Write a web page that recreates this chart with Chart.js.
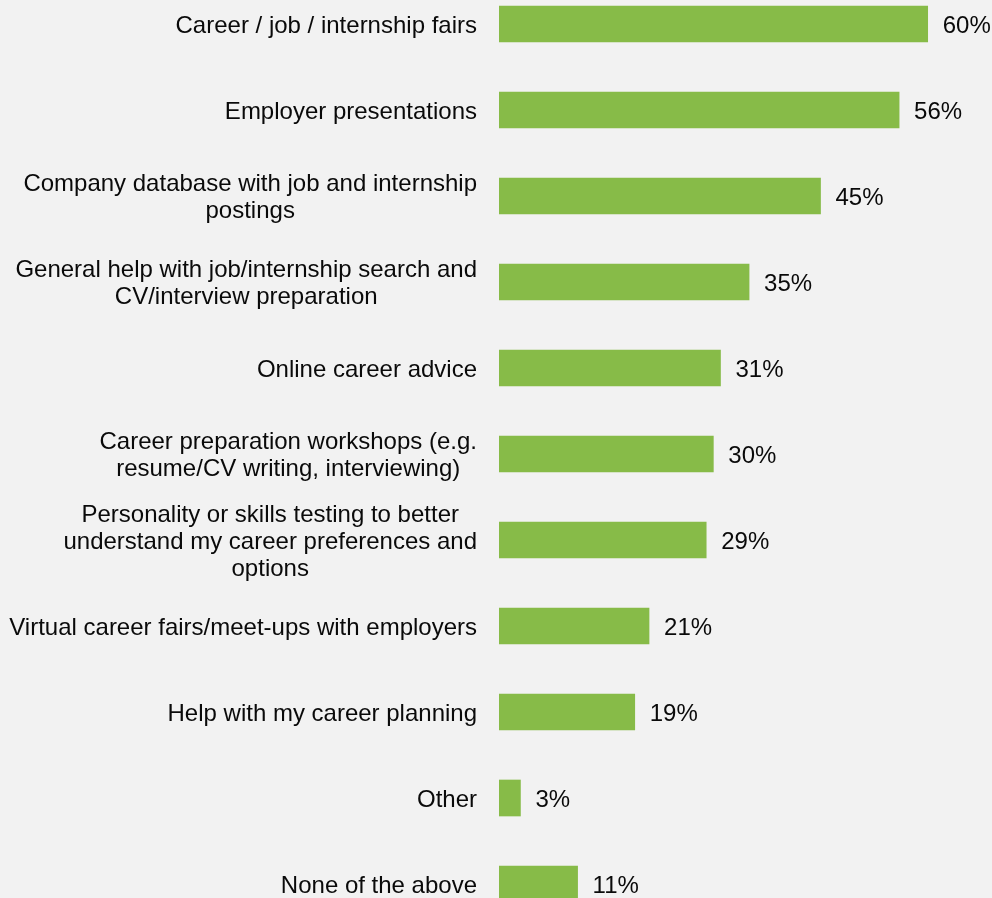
<!DOCTYPE html>
<html>
<head>
<meta charset="utf-8">
<script src="https://cdn.jsdelivr.net/npm/chart.js@4"></script>
<style>
  html, body { margin: 0; padding: 0; background: #f2f2f2; overflow: hidden; }
  body { width: 992px; height: 898px; position: relative; }
  #wrap { position: absolute; left: 0; top: -19px; width: 992px; height: 946px; }
</style>
</head>
<body>
<div id="wrap"><canvas id="chart" width="992" height="946"></canvas></div>
<script>
// Career service usage, share of respondents (%)
const categories = [
  ["Career / job / internship fairs"],
  ["Employer presentations"],
  ["Company database with job and internship", "postings"],
  ["General help with job/internship search and", "CV/interview preparation"],
  ["Online career advice"],
  ["Career preparation workshops (e.g.", "resume/CV writing, interviewing)"],
  ["Personality or skills testing to better", "understand my career preferences and", "options"],
  ["Virtual career fairs/meet-ups with employers"],
  ["Help with my career planning"],
  ["Other"],
  ["None of the above"],
];
const shares = [60, 56, 45, 35, 31, 30, 29, 21, 19, 3, 11];

const FONT = "24px 'Liberation Sans', Arial, sans-serif";
const LABEL_RIGHT = 477;
const LINE_H = 27;
const TEXT_DY = 2;

// category names (centred lines, block right-aligned) and value labels
const labelPlugin = {
  id: "labels",
  afterDatasetsDraw(chart) {
    const ctx = chart.ctx;
    const xs = chart.scales.x;
    const ys = chart.scales.y;
    ctx.save();
    ctx.font = FONT;
    ctx.fillStyle = "#0a0a0a";
    ctx.textBaseline = "middle";
    categories.forEach((lines, i) => {
      const cy = ys.getPixelForValue(i) + TEXT_DY;
      const w = Math.max(...lines.map((l) => ctx.measureText(l).width));
      const cx = LABEL_RIGHT - w / 2;
      ctx.textAlign = "center";
      lines.forEach((l, k) => {
        ctx.fillText(l, cx, cy + (k - (lines.length - 1) / 2) * LINE_H);
      });
      ctx.textAlign = "left";
      ctx.fillText(shares[i] + "%", xs.getPixelForValue(shares[i]) + 15, cy);
    });
    ctx.restore();
  },
};

new Chart(document.getElementById("chart"), {
  type: "bar",
  data: {
    labels: categories,
    datasets: [
      {
        data: shares,
        backgroundColor: "#87bb48",
        borderWidth: 0,
        barThickness: 36,
      },
    ],
  },
  options: {
    indexAxis: "y",
    responsive: false,
    animation: false,
    layout: { padding: { left: 499, right: 0, top: 0, bottom: 0 } },
    plugins: { legend: { display: false }, tooltip: { enabled: false } },
    scales: {
      x: { display: false, min: 0, max: 69 },
      y: { display: false },
    },
  },
  plugins: [labelPlugin],
});
</script>
</body>
</html>
